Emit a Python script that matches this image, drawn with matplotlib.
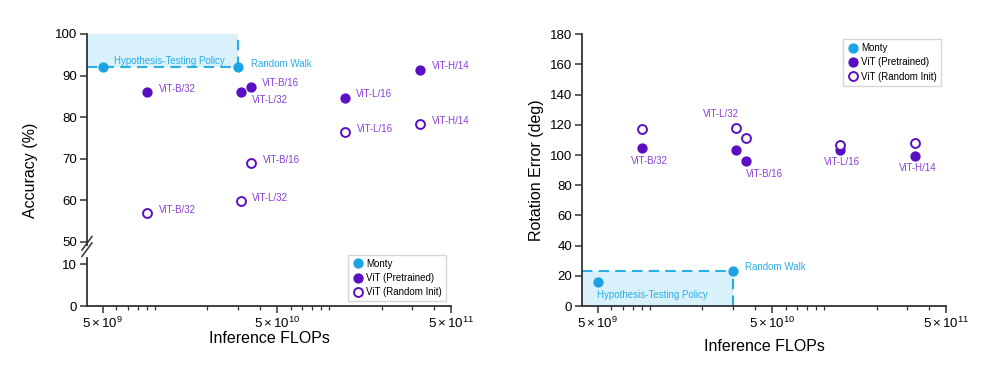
import matplotlib
matplotlib.use("Agg")
import matplotlib.pyplot as plt
from matplotlib.ticker import FixedLocator, LogLocator, NullFormatter
from matplotlib.lines import Line2D

plt.rcParams['font.family'] = ['Liberation Sans', 'DejaVu Sans']
plt.rcParams['mathtext.fontset'] = 'custom'
plt.rcParams['mathtext.rm'] = 'Liberation Sans'
plt.rcParams['mathtext.it'] = 'Liberation Sans:italic'

# data
vit_names = ["ViT-B/32", "ViT-L/32", "ViT-B/16", "ViT-L/16", "ViT-H/14"]
vit_flops = [9.0e9, 3.1e10, 3.55e10, 1.23e11, 3.33e11]
acc_pre = [86.0, 86.0, 87.2, 84.7, 91.4]
acc_rand = [57.0, 59.8, 68.9, 76.4, 78.3]
rot_pre = [104.5, 103.4, 95.8, 103.6, 99.6]
rot_rand = [117.5, 117.9, 111.1, 106.7, 108.2]

monty_names = ["Hypothesis-Testing Policy", "Random Walk"]
monty_flops = [5.0e9, 3.0e10]
monty_acc = [92.0, 92.0]
monty_rot = [15.7, 23.4]

BLUE = "#1ba3e3"
LBLUE = "#2aaee6"
FILL = "#d9f1fb"
PURPLE = "#5a0fc0"
TPURPLE = "#8a3fd6"
SPINE = "#333333"
XLIM = (4.07e9, 5.0e11)

fig = plt.figure(figsize=(10, 3.76), dpi=100)
axt = fig.add_axes([0.087, 0.3564, 0.364, 0.5532])
axb = fig.add_axes([0.087, 0.186, 0.364, 0.128])
axr = fig.add_axes([0.582, 0.186, 0.364, 0.723])


def style(ax, bottom=True):
    ax.set_xscale('log')
    ax.set_xlim(*XLIM)
    for s in ['top', 'right']:
        ax.spines[s].set_visible(False)
    for s in ['left', 'bottom']:
        ax.spines[s].set_color(SPINE)
        ax.spines[s].set_linewidth(1.3)
    ax.tick_params(which='major', length=5, width=1.1, color=SPINE, labelsize=9.5, pad=2)
    ax.tick_params(which='minor', length=3, width=0.9, color=SPINE)
    ax.xaxis.set_major_locator(FixedLocator([5e9, 5e10, 5e11]))
    ax.set_xticklabels([r'$5\times10^{9}$', r'$5\times10^{10}$', r'$5\times10^{11}$'])
    ax.xaxis.set_minor_locator(LogLocator(base=10, subs='all', numticks=20))
    ax.xaxis.set_minor_formatter(NullFormatter())
    ax.patch.set_alpha(0)
    if not bottom:
        ax.spines['bottom'].set_visible(False)
        ax.tick_params(axis='x', which='both', bottom=False, labelbottom=False)


style(axt, bottom=False)
style(axb)
style(axr)

axt.set_ylim(50, 100)
axt.set_yticks([50, 60, 70, 80, 90, 100])
axb.set_ylim(0, 11.5)
axb.set_yticks([0, 10])
axr.set_ylim(0, 180)
axr.set_yticks(range(0, 181, 20))

ms = 6.4

# ---- left: accuracy ----
rw_x = monty_flops[1]
axt.fill_between([XLIM[0], rw_x], monty_acc[1], 100, color=FILL, lw=0, zorder=0)
axt.plot([XLIM[0], rw_x], [monty_acc[1], monty_acc[1]], ls=(0, (5, 3)), color=LBLUE, lw=1.5, zorder=1, clip_on=False)
axt.plot([rw_x, rw_x], [monty_acc[1], 100], ls=(0, (5, 3)), color=LBLUE, lw=1.5, zorder=1, clip_on=False)
axt.plot(monty_flops, monty_acc, 'o', ms=ms, color=BLUE, ls='none', zorder=3, clip_on=False)
axt.plot(vit_flops, acc_pre, 'o', ms=ms, color=PURPLE, ls='none', zorder=3)
axt.plot(vit_flops, acc_rand, 'o', ms=ms, mfc='white', mec=PURPLE, mew=1.4, ls='none', zorder=3)

axt.annotate(monty_names[0], (monty_flops[0], monty_acc[0]), xytext=(8.5, 4.3),
             textcoords='offset points', fontsize=7, color=LBLUE, va='center')
axt.annotate(monty_names[1], (monty_flops[1], monty_acc[1]), xytext=(9, 2.4),
             textcoords='offset points', fontsize=7, color=LBLUE, va='center')
pre_off = [(8.5, 2.2), (8.5, -5.8), (8.2, 2.7), (8.2, 2.4), (8.5, 2.4)]
for n, x, y, off in zip(vit_names, vit_flops, acc_pre, pre_off):
    axt.annotate(n, (x, y), xytext=off, textcoords='offset points', fontsize=7, color=TPURPLE, va='center')
for n, x, y in zip(vit_names, vit_flops, acc_rand):
    axt.annotate(n, (x, y), xytext=(8.4, 2.3), textcoords='offset points', fontsize=7, color=TPURPLE, va='center')

# break marks on the left spine
for yy in (0.336, 0.353):
    fig.add_artist(Line2D([0.082, 0.092], [yy - 0.018, yy + 0.018], color=SPINE, lw=1.1))
fig.add_artist(Line2D([0.087, 0.087], [0.3564, 0.348], color=SPINE, lw=1.3))

h1 = Line2D([], [], marker='o', ls='none', ms=ms, color=BLUE, label='Monty')
h2 = Line2D([], [], marker='o', ls='none', ms=ms, color=PURPLE, label='ViT (Pretrained)')
h3 = Line2D([], [], marker='o', ls='none', ms=ms, mfc='white', mec=PURPLE, mew=1.4, label='ViT (Random Init)')
leg_kw = dict(fontsize=7, frameon=True, fancybox=False, edgecolor='#cccccc',
              handletextpad=0.3, borderpad=0.4, labelspacing=0.45, handlelength=1.2, borderaxespad=0)
lg = fig.legend(handles=[h1, h2, h3], loc='lower right', bbox_to_anchor=(0.446, 0.199), **leg_kw)
lg.get_frame().set_linewidth(1.0)

fig.text(0.03, 0.548, 'Accuracy (%)', rotation=90, fontsize=11.5, ha='center', va='center')
axb.set_xlabel('Inference FLOPs', fontsize=11.5, labelpad=0)

# ---- right: rotation error ----
axr.fill_between([XLIM[0], rw_x], 0, monty_rot[1], color=FILL, lw=0, zorder=0)
axr.plot([XLIM[0], rw_x], [monty_rot[1], monty_rot[1]], ls=(0, (5, 3)), color=LBLUE, lw=1.5, zorder=1)
axr.plot([rw_x, rw_x], [0, monty_rot[1]], ls=(0, (5, 3)), color=LBLUE, lw=1.5, zorder=1)
axr.plot(monty_flops, monty_rot, 'o', ms=ms, color=BLUE, ls='none', zorder=3)
axr.plot(vit_flops, rot_pre, 'o', ms=ms, color=PURPLE, ls='none', zorder=3)
axr.plot(vit_flops, rot_rand, 'o', ms=ms, mfc='white', mec=PURPLE, mew=1.4, ls='none', zorder=3)

axr.annotate(monty_names[0], (monty_flops[0], monty_rot[0]), xytext=(-0.5, -9.4),
             textcoords='offset points', fontsize=7, color=LBLUE, va='center', ha='left')
axr.annotate(monty_names[1], (monty_flops[1], monty_rot[1]), xytext=(8.4, 2.4),
             textcoords='offset points', fontsize=7, color=LBLUE, va='center')
# labels: B/32 below, L/32 above-left, B/16 below-right, L/16 and H/14 below
axr.annotate(vit_names[0], (vit_flops[0], rot_pre[0]), xytext=(5, -9.5),
             textcoords='offset points', fontsize=7, color=TPURPLE, va='center', ha='center')
axr.annotate(vit_names[1], (vit_flops[1], rot_rand[1]), xytext=(-10.3, 10.2),
             textcoords='offset points', fontsize=7, color=TPURPLE, va='center', ha='center')
axr.annotate(vit_names[2], (vit_flops[2], rot_pre[2]), xytext=(0, -9.2),
             textcoords='offset points', fontsize=7, color=TPURPLE, va='center', ha='left')
axr.annotate(vit_names[3], (vit_flops[3], rot_pre[3]), xytext=(1.5, -9.2),
             textcoords='offset points', fontsize=7, color=TPURPLE, va='center', ha='center')
axr.annotate(vit_names[4], (vit_flops[4], rot_pre[4]), xytext=(1.5, -9.2),
             textcoords='offset points', fontsize=7, color=TPURPLE, va='center', ha='center')

lg2 = axr.legend(handles=[h1, h2, h3], loc='upper right', bbox_to_anchor=(0.941, 0.896),
                 bbox_transform=fig.transFigure, **leg_kw)
lg2.get_frame().set_linewidth(1.0)

axr.set_ylabel('Rotation Error (deg)', fontsize=11.5, labelpad=4)
axr.set_xlabel('Inference FLOPs', fontsize=11.5, labelpad=6)

fig.savefig('out.png', dpi=100)
